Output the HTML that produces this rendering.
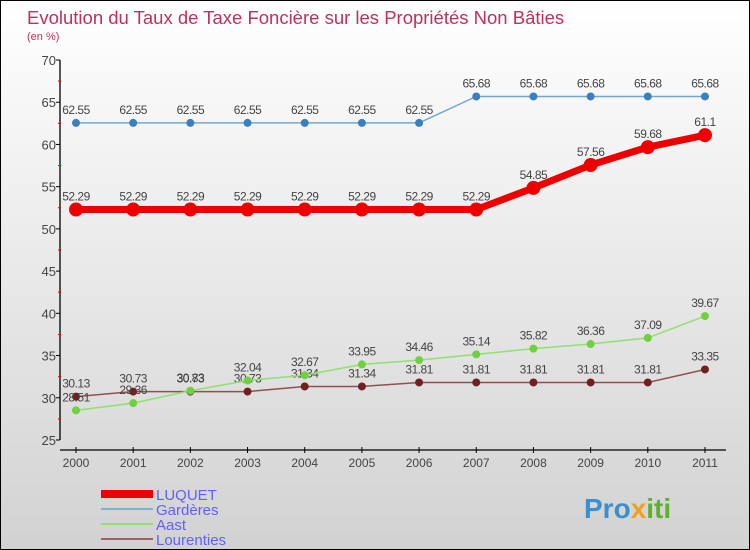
<!DOCTYPE html>
<html><head><meta charset="utf-8"><style>
html,body{margin:0;padding:0}
body{width:750px;height:550px;overflow:hidden;font-family:"Liberation Sans",sans-serif}
#wrap{position:relative;width:748px;height:548px;border:1px solid #000;background:linear-gradient(#ffffff,#d2d2d2)}
svg{position:absolute;left:0;top:0}
</style></head><body>
<div id="wrap">
<svg id="chart" width="748" height="548">
<text x="26" y="23" font-size="18.5" fill="#c0305a">Evolution du Taux de Taxe Foncière sur les Propriétés Non Bâties</text>
<text x="26" y="39" font-size="11" fill="#c0305a">(en %)</text>
<g id="axes"></g><g id="series"></g>
<g>
<rect x="100" y="489" width="52" height="8" fill="#e00"/>
<text x="155" y="499" font-size="15" fill="#6060ff">LUQUET</text>
<rect x="100" y="507" width="52" height="2" fill="#7fb0d0"/>
<text x="155" y="514" font-size="15" fill="#6060ff">Gardères</text>
<rect x="100" y="522" width="52" height="2" fill="#90e070"/>
<text x="155" y="529" font-size="15" fill="#6060ff">Aast</text>
<rect x="100" y="537" width="52" height="2" fill="#a06060"/>
<text x="155" y="544" font-size="15" fill="#6060ff">Lourenties</text>
</g>
<text x="583" y="517" font-size="28" font-weight="bold" fill="#3a8fd0">Pro<tspan fill="#f0a020">x</tspan><tspan fill="#60b030">iti</tspan></text>
</svg>
</div>
<script>
const years=[2000,2001,2002,2003,2004,2005,2006,2007,2008,2009,2010,2011];
const yTicks=[25,30,35,40,45,50,55,60,65,70];
const luquet=[52.29,52.29,52.29,52.29,52.29,52.29,52.29,52.29,54.85,57.56,59.68,61.1];
const garderes=[62.55,62.55,62.55,62.55,62.55,62.55,62.55,65.68,65.68,65.68,65.68,65.68];
const aast=[28.51,29.36,30.83,32.04,32.67,33.95,34.46,35.14,35.82,36.36,37.09,39.67];
const lourenties=[30.13,30.73,30.73,30.73,31.34,31.34,31.81,31.81,31.81,31.81,31.81,33.35];
const NS="http://www.w3.org/2000/svg";
const xs=i=>75+i*57.18;
const ys=v=>59+(70-v)*8.444;
function mk(t,a,p){const e=document.createElementNS(NS,t);for(const k in a)e.setAttribute(k,a[k]);p.appendChild(e);return e;}
const ax=document.getElementById('axes');
const yl=mk('line',{x1:59,y1:ys(70),x2:59,y2:ys(25),stroke:'#000','stroke-width':1.3},ax);


const xl=mk('line',{x1:59,y1:449,x2:725,y2:449,stroke:'#000','stroke-width':1.3},ax);


yTicks.forEach((v,i)=>{
  mk('line',{x1:55,y1:ys(v),x2:59,y2:ys(v),stroke:'#000'},ax);
  if(i<yTicks.length-1)mk('line',{x1:57,y1:ys(v+2.5),x2:60,y2:ys(v+2.5),stroke:'#e00'},ax);
  const t=mk('text',{x:55,y:ys(v)+5,'font-size':13,fill:'#444','text-anchor':'end'},ax);
  t.textContent=v;
  
  
});
years.forEach((y,i)=>{
  mk('line',{x1:xs(i),y1:446,x2:xs(i),y2:452,stroke:'#000'},ax);
  const t=mk('text',{x:xs(i),y:466,'font-size':12,fill:'#444','text-anchor':'middle'},ax);
  t.textContent=y;
  
  
});
const sg=document.getElementById('series');
function series(name,vals,color,dot,w,r){
  const g=mk('g',{},sg);
  
  
  const pl=mk('polyline',{points:vals.map((v,i)=>xs(i)+','+ys(v)).join(' '),fill:'none',stroke:color,'stroke-width':w},g);
  
  
  vals.forEach((v,i)=>{
    const c=mk('circle',{cx:xs(i),cy:ys(v),r:r,fill:dot},g);
    
    
    const t=mk('text',{x:xs(i),y:ys(v)-9,'font-size':12,fill:'#444','text-anchor':'middle','letter-spacing':'-0.5'},g);
    t.textContent=v;
    
    
  });
}
series('lourenties',lourenties,'#905050','#702020',1.5,4);
series('aast',aast,'#90e070','#70d040',1.5,4);
series('garderes',garderes,'#70a8d0','#3a80c0',1.5,4);
series('luquet',luquet,'#ee0000','#ee0000',7,7);
</script>
</body></html>
